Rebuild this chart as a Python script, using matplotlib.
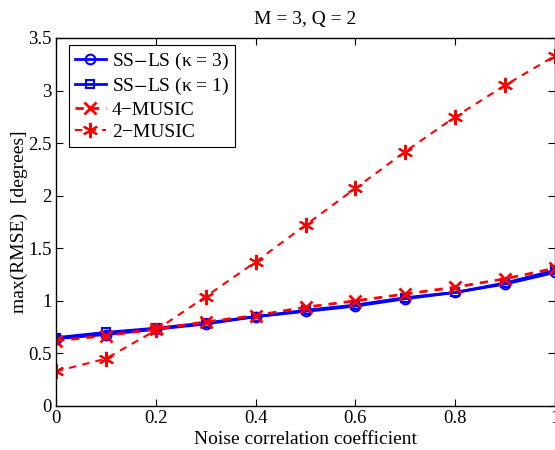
import matplotlib
matplotlib.use("Agg")
import matplotlib.pyplot as plt
import numpy as np

x = [0, 0.1, 0.2, 0.3, 0.4, 0.5, 0.6, 0.7, 0.8, 0.9, 1.0]
ssls_k3 = [0.64, 0.68, 0.73, 0.78, 0.85, 0.90, 0.95, 1.02, 1.08, 1.16, 1.27]
ssls_k1 = [0.65, 0.70, 0.74, 0.79, 0.85, 0.91, 0.96, 1.03, 1.08, 1.17, 1.29]
music4 = [0.62, 0.67, 0.73, 0.80, 0.86, 0.94, 1.00, 1.065, 1.13, 1.21, 1.31]
music2 = [0.33, 0.45, 0.72, 1.04, 1.37, 1.72, 2.07, 2.42, 2.75, 3.05, 3.33]

xticks = [0, 0.2, 0.4, 0.6, 0.8, 1]
xticklabels = ["0", "0.2", "0.4", "0.6", "0.8", "1"]
yticks = [0, 0.5, 1, 1.5, 2, 2.5, 3, 3.5]
yticklabels = ["0", "0.5", "1", "1.5", "2", "2.5", "3", "3.5"]

plt.rcParams['font.family'] = ['Liberation Serif', 'DejaVu Serif']
plt.rcParams['mathtext.fontset'] = 'stix'

fig = plt.figure(figsize=(5.55, 4.5), dpi=100)
ax = fig.add_axes([56/555, 1-406/450, 499/555, 368/450])

ax.plot(x, ssls_k3, color='blue', lw=2, marker='o', ms=7, mfc='none', mew=1.5,
        label=r'SS$-$LS ($\mathregular{\kappa}$ = 3)')
ax.plot(x, ssls_k1, color='blue', lw=2, marker='s', ms=6, mfc='none', mew=1.5,
        label=r'SS$-$LS ($\mathregular{\kappa}$ = 1)')
ax.plot(x, music4, color='red', lw=2, ls='--', dashes=(3, 2.5), marker='x', ms=8, mew=2,
        label='4\u2212MUSIC')
ax.plot(x, music2, color='red', lw=1.5, ls='--', dashes=(3.5, 3), marker=(6, 2, 0), ms=11, mew=1.5,
        label='2\u2212MUSIC')

ax.set_xlim(0, 1)
ax.set_ylim(0, 3.5)
ax.set_xticks(xticks)
ax.set_xticklabels(xticklabels)
ax.set_yticks(yticks)
ax.set_yticklabels(yticklabels)
ax.tick_params(direction='in', top=True, right=True, labelsize=13.5, length=5, width=0.8, pad=3)
for s in ax.spines.values():
    s.set_linewidth(1.0)

ax.set_xlabel('Noise correlation coefficient', fontsize=14, labelpad=3)
ax.set_ylabel('max(RMSE)  [degrees]', fontsize=14, labelpad=0)
ax.set_title('M = 3, Q = 2', fontsize=14, pad=10)

leg = ax.legend(loc='upper left', bbox_to_anchor=(13/499, 1-7/368), borderaxespad=0,
                fontsize=14, fancybox=False, edgecolor='black',
                framealpha=1, handlelength=1.6, borderpad=0.3, labelspacing=0.22,
                handletextpad=0.3)
leg.get_frame().set_linewidth(0.8)

fig.savefig('out.png', dpi=100)
